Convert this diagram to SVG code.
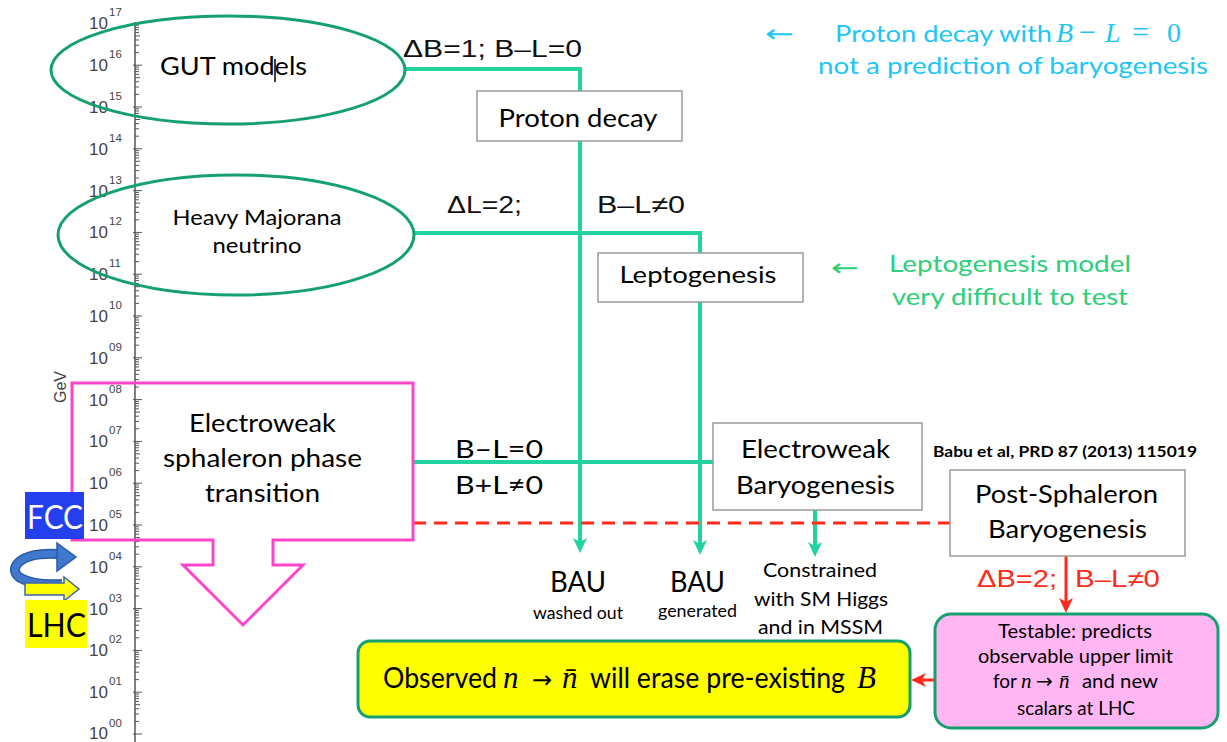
<svg xmlns="http://www.w3.org/2000/svg" width="1227" height="742" viewBox="0 0 1227 742">
<style>
.t{font-family:Lato,"Open Sans",sans-serif;fill:#000}
.a{font-family:"Liberation Sans",Arial,sans-serif;fill:#111}
.m{font-family:"Liberation Serif","Times New Roman",serif;font-style:italic}
.mu{font-family:"Liberation Serif","Times New Roman",serif}
.arw{font-family:"DejaVu Sans",sans-serif}
.ax{font-family:"Liberation Sans",Arial,sans-serif;fill:#444}
.box{fill:#fff;stroke:#9a9a9a;stroke-width:1.5}
.ell{fill:none;stroke:#15a070;stroke-width:3}
.conn{fill:none;stroke:#22d3a0;stroke-width:4}
.red{fill:none;stroke:#ff2a1a;stroke-width:3}
.cy{fill:#1ec6f4}
.gr{fill:#2dcf78}
</style>
<defs>
<marker id="mg" markerUnits="userSpaceOnUse" markerWidth="16" markerHeight="16" viewBox="0 0 16 16" refX="11" refY="8" orient="auto"><path d="M0,1 L15,8 L0,15 L4,8 Z" fill="#22d3a0"/></marker>
<marker id="mr" markerUnits="userSpaceOnUse" markerWidth="16" markerHeight="16" viewBox="0 0 16 16" refX="11" refY="8" orient="auto"><path d="M0,1 L15,8 L0,15 L4,8 Z" fill="#ff2a1a"/></marker>
<g id="dec"><path d="M133,0 H142 M135,-12.6 H139 M135,-20 H139 M135,-25.2 H139 M135,-29.3 H140 M135,-32.6 H139 M135,-35.4 H139 M135,-37.8 H139 M135,-40 H139" stroke="#555" stroke-width="1" fill="none"/></g>
</defs>
<rect width="1227" height="742" fill="#fff"/>

<g id="axis">
<path d="M135,22 V742" stroke="#555" stroke-width="1.5"/>
<use href="#dec" y="734"/><use href="#dec" y="692.2"/><use href="#dec" y="650.4"/><use href="#dec" y="608.6"/><use href="#dec" y="566.8"/><use href="#dec" y="525"/><use href="#dec" y="483.2"/><use href="#dec" y="441.4"/><use href="#dec" y="399.6"/><use href="#dec" y="357.8"/><use href="#dec" y="316"/><use href="#dec" y="274.2"/><use href="#dec" y="232.4"/><use href="#dec" y="190.6"/><use href="#dec" y="148.8"/><use href="#dec" y="107"/><use href="#dec" y="65.2"/>
<path d="M133,23.4 H142" stroke="#555" stroke-width="1"/>
<g class="ax" font-size="17" text-anchor="end">
<text x="108" y="29.4">10</text><text x="108" y="71.2">10</text><text x="108" y="113">10</text><text x="108" y="154.8">10</text><text x="108" y="196.6">10</text><text x="108" y="238.4">10</text><text x="108" y="280.2">10</text><text x="108" y="322">10</text><text x="108" y="363.8">10</text><text x="108" y="405.6">10</text><text x="108" y="447.4">10</text><text x="108" y="489.2">10</text><text x="108" y="531">10</text><text x="108" y="572.8">10</text><text x="108" y="614.6">10</text><text x="108" y="656.4">10</text><text x="108" y="698.2">10</text><text x="108" y="739">10</text>
</g>
<g class="ax" font-size="11.5">
<text x="109" y="16.4">17</text><text x="109" y="58.2">16</text><text x="109" y="100">15</text><text x="109" y="141.8">14</text><text x="109" y="183.6">13</text><text x="109" y="225.4">12</text><text x="109" y="267.2">11</text><text x="109" y="309">10</text><text x="109" y="350.8">09</text><text x="109" y="392.6">08</text><text x="109" y="434.4">07</text><text x="109" y="476.2">06</text><text x="109" y="518">05</text><text x="109" y="559.8">04</text><text x="109" y="601.6">03</text><text x="109" y="643.4">02</text><text x="109" y="685.2">01</text><text x="109" y="727">00</text>
</g>
<text class="ax" font-size="16" transform="translate(66,387) rotate(-90)" text-anchor="middle">GeV</text>
</g>

<g id="connectors">
<path class="conn" d="M405,69 H580 V549" marker-end="url(#mg)"/>
<path class="conn" d="M415,233 H700 V551" marker-end="url(#mg)"/>
<path class="conn" d="M413,462 H713"/>
<path class="conn" d="M815,510 V553" marker-end="url(#mg)"/>
<path class="red" d="M413,523 H950" stroke-dasharray="13,8"/>
<path class="red" d="M1066,556 V609" marker-end="url(#mr)"/>
<path class="red" d="M935,680 H915" marker-end="url(#mr)"/>
<text class="a" x="403" y="57" font-size="24" textLength="179" lengthAdjust="spacingAndGlyphs">ΔB=1; B–L=0</text>
<text class="a" x="447" y="213" font-size="24" textLength="75" lengthAdjust="spacingAndGlyphs">ΔL=2;</text>
<text class="a" x="597" y="213" font-size="24" textLength="88" lengthAdjust="spacingAndGlyphs">B–L≠0</text>
<text class="t" x="455" y="458" font-size="25" textLength="88" lengthAdjust="spacingAndGlyphs">B–L=0</text>
<text class="t" x="455" y="494" font-size="25" textLength="88" lengthAdjust="spacingAndGlyphs">B+L≠0</text>
<text class="a" x="977" y="587" font-size="24" style="fill:#ff2a1a" textLength="80" lengthAdjust="spacingAndGlyphs">ΔB=2;</text>
<text class="a" x="1075" y="587" font-size="24" style="fill:#ff2a1a" textLength="85" lengthAdjust="spacingAndGlyphs">B–L≠0</text>
</g>

<g id="gut">
<ellipse class="ell" cx="228" cy="70" rx="177" ry="54"/>
<text class="t" x="160" y="75" font-size="25" textLength="147" lengthAdjust="spacingAndGlyphs">GUT models</text>
<line x1="275" y1="59" x2="275" y2="82" stroke="#000" stroke-width="1.5"/>
</g>

<g id="majorana">
<ellipse class="ell" cx="236" cy="235" rx="178" ry="60"/>
<text class="t" x="257" y="225" font-size="21" text-anchor="middle" textLength="169" lengthAdjust="spacingAndGlyphs">Heavy Majorana</text>
<text class="t" x="257" y="253" font-size="21" text-anchor="middle" textLength="89" lengthAdjust="spacingAndGlyphs">neutrino</text>
</g>

<g id="proton-decay">
<rect class="box" x="477" y="91" width="205" height="50"/>
<text class="t" x="578" y="127" font-size="25" text-anchor="middle" textLength="159" lengthAdjust="spacingAndGlyphs">Proton decay</text>
</g>

<g id="leptogenesis">
<rect class="box" x="598" y="253" width="205" height="49"/>
<text class="t" x="698" y="283" font-size="24" text-anchor="middle" textLength="157" lengthAdjust="spacingAndGlyphs">Leptogenesis</text>
</g>

<g id="ew-sphaleron">
<path d="M72,383 H413 V540 H273 V565 H303 L243,625 L183,565 H213 V540 H72 Z" fill="none" stroke="#ff44cc" stroke-width="3"/>
<text class="t" x="262.5" y="432" font-size="25" text-anchor="middle" textLength="147" lengthAdjust="spacingAndGlyphs">Electroweak</text>
<text class="t" x="262.5" y="467" font-size="25" text-anchor="middle" textLength="199" lengthAdjust="spacingAndGlyphs">sphaleron phase</text>
<text class="t" x="262.5" y="502" font-size="25" text-anchor="middle" textLength="115" lengthAdjust="spacingAndGlyphs">transition</text>
</g>

<g id="ew-baryogenesis">
<rect class="box" x="713" y="423" width="209" height="87"/>
<text class="t" x="815.5" y="458" font-size="25" text-anchor="middle" textLength="149" lengthAdjust="spacingAndGlyphs">Electroweak</text>
<text class="t" x="815.5" y="494" font-size="25" text-anchor="middle" textLength="159" lengthAdjust="spacingAndGlyphs">Baryogenesis</text>
</g>

<g id="post-sphaleron">
<text class="t" x="933" y="457" font-size="15" font-weight="bold" textLength="264" lengthAdjust="spacingAndGlyphs">Babu et al, PRD 87 (2013) 115019</text>
<rect class="box" x="950" y="470" width="235" height="86"/>
<text class="t" x="1066.5" y="503" font-size="25" text-anchor="middle" textLength="183" lengthAdjust="spacingAndGlyphs">Post-Sphaleron</text>
<text class="t" x="1067.5" y="538" font-size="25" text-anchor="middle" textLength="159" lengthAdjust="spacingAndGlyphs">Baryogenesis</text>
</g>

<g id="bau-washed">
<text class="t" x="578" y="592" font-size="29" text-anchor="middle" textLength="56" lengthAdjust="spacingAndGlyphs">BAU</text>
<text class="t" x="578" y="619" font-size="17" text-anchor="middle" textLength="90" lengthAdjust="spacingAndGlyphs">washed out</text>
</g>

<g id="bau-generated">
<text class="t" x="697.5" y="592" font-size="29" text-anchor="middle" textLength="55" lengthAdjust="spacingAndGlyphs">BAU</text>
<text class="t" x="697.5" y="617" font-size="17" text-anchor="middle" textLength="79" lengthAdjust="spacingAndGlyphs">generated</text>
</g>

<g id="constrained">
<text class="t" x="820" y="577" font-size="20" text-anchor="middle" textLength="114" lengthAdjust="spacingAndGlyphs">Constrained</text>
<text class="t" x="821" y="606" font-size="20" text-anchor="middle" textLength="134" lengthAdjust="spacingAndGlyphs">with SM Higgs</text>
<text class="t" x="820.5" y="634" font-size="20" text-anchor="middle" textLength="125" lengthAdjust="spacingAndGlyphs">and in MSSM</text>
</g>

<g id="observed">
<rect x="358" y="641" width="552" height="76" rx="12" fill="#ffff00" stroke="#15a070" stroke-width="3"/>
<text class="t" y="688" font-size="28"><tspan x="383" textLength="114" lengthAdjust="spacingAndGlyphs">Observed</tspan><tspan class="m" x="503" font-size="31">n</tspan><tspan class="arw" x="532" font-size="24">→</tspan><tspan class="m" x="562" font-size="31">n̄</tspan><tspan x="590" textLength="255" lengthAdjust="spacingAndGlyphs">will erase pre-existing</tspan><tspan class="m" x="857" font-size="31">B</tspan></text>
</g>

<g id="testable">
<rect x="935" y="614" width="283" height="114" rx="16" fill="#ffb6f3" stroke="#15a070" stroke-width="3"/>
<text class="t" x="1075" y="638" font-size="19" text-anchor="middle" textLength="154" lengthAdjust="spacingAndGlyphs">Testable: predicts</text>
<text class="t" x="1075.5" y="663" font-size="19" text-anchor="middle" textLength="195" lengthAdjust="spacingAndGlyphs">observable upper limit</text>
<text class="t" y="688" font-size="19"><tspan x="993">for</tspan><tspan class="m" x="1021" font-size="21">n</tspan><tspan class="arw" x="1036" font-size="20">→</tspan><tspan class="m" x="1059" font-size="21">n̄</tspan><tspan x="1082" textLength="76" lengthAdjust="spacingAndGlyphs">and new</tspan></text>
<text class="t" x="1076" y="715" font-size="19" text-anchor="middle" textLength="118" lengthAdjust="spacingAndGlyphs">scalars at LHC</text>
</g>

<g id="note-proton">
<text class="cy" x="765" y="42" font-family="DejaVu Sans, sans-serif" font-size="24" textLength="29" lengthAdjust="spacingAndGlyphs">←</text>
<text class="t cy" y="42" font-size="24"><tspan x="835" textLength="217" lengthAdjust="spacingAndGlyphs">Proton decay with</tspan><tspan class="m" x="1056" font-size="28">B</tspan><tspan class="mu" x="1079" font-size="30">−</tspan><tspan class="m" x="1105" font-size="28">L</tspan><tspan class="mu" x="1132" font-size="30">=</tspan><tspan class="mu" x="1167" font-size="28">0</tspan></text>
<text class="t cy" x="818" y="74" font-size="24" textLength="390" lengthAdjust="spacingAndGlyphs">not a prediction of baryogenesis</text>
</g>

<g id="note-lepto">
<text class="gr" x="831" y="276" font-family="DejaVu Sans, sans-serif" font-size="24" textLength="28" lengthAdjust="spacingAndGlyphs">←</text>
<text class="t gr" x="889" y="272" font-size="24" textLength="242" lengthAdjust="spacingAndGlyphs">Leptogenesis model</text>
<text class="t gr" x="892" y="305" font-size="24" textLength="236" lengthAdjust="spacingAndGlyphs">very difficult to test</text>
</g>

<g id="fcc-lhc">
<path d="M62,584 C22,586 8,574 18,563 C26,555 40,553 58,554" fill="none" stroke="#2a5aa8" stroke-width="10"/>
<path d="M62,584 C22,586 8,574 18,563 C26,555 40,553 58,554" fill="none" stroke="#3f78cc" stroke-width="7"/>
<path d="M57,543 L76,557 L57,571 Z" fill="#3f78cc" stroke="#2a5aa8" stroke-width="1.5"/>
<polygon points="25,583 64,583 64,577 79,589 64,601 64,595 25,595" fill="#ffff00" stroke="#3a66b0" stroke-width="1.5"/>
<rect x="25" y="492" width="59" height="47" fill="#2440ee"/>
<text class="t" x="55" y="529" font-size="32" text-anchor="middle" style="fill:#fff" textLength="56" lengthAdjust="spacingAndGlyphs">FCC</text>
<rect x="25" y="600" width="62" height="48" fill="#ffff00"/>
<text class="t" x="56.5" y="637" font-size="32" text-anchor="middle" textLength="59" lengthAdjust="spacingAndGlyphs">LHC</text>
</g>
</svg>
